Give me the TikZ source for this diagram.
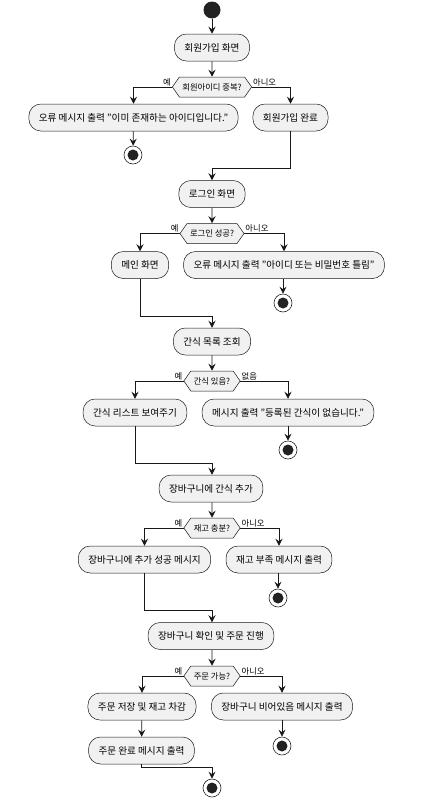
\documentclass[tikz,border=0pt]{standalone}
\usepackage{fontspec}
\setmainfont{Noto Sans CJK KR}
\usepackage{tikz}
\definecolor{umlline}{HTML}{181818}
\definecolor{umlfill}{HTML}{F1F1F1}
\definecolor{umldot}{HTML}{222222}
\usetikzlibrary{shapes.symbols,arrows.meta,positioning,calc}
\newcommand{\dq}{\symbol{34}}

\begin{document}
\begin{tikzpicture}[
    x=1pt, y=-1pt,
    box/.style={rectangle, rounded corners=12pt, draw=umlline, line width=0.5pt, fill=umlfill, minimum height=27pt, inner xsep=10pt, font=\fontsize{9.6}{11}\selectfont},
    choice/.style={signal, signal to=west and east, signal pointer angle=110, draw=umlline, line width=0.5pt, fill=umlfill, minimum height=20pt, inner xsep=3pt, inner ysep=1pt, font=\fontsize{8.3}{10}\selectfont},
    startdot/.style={circle, fill=umldot, minimum size=17pt, inner sep=0pt},
    stopdot/.style={circle, draw=umldot, line width=0.6pt, fill=white, minimum size=18pt, inner sep=0pt, path picture={\fill[umldot] (path picture bounding box.center) circle (5.5pt);}},
    flow/.style={draw=umlline, line width=0.8pt, -{Stealth[length=7pt,width=7pt,inset=2.5pt]}},
    branch/.style={font=\fontsize{8.3}{9}\selectfont, inner sep=1pt}
]
\useasboundingbox (0,0) rectangle (423,803);

\node[startdot] (s0) at (212,10) {};
\node[box] (join) at (212,47.5) {회원가입 화면};
\node[choice] (dupid) at (212,87) {회원아이디 중복?};
\node[box] (duperr) at (133.5,117.5) {오류 메시지 출력 \dq 이미 존재하는 아이디입니다.\dq};
\node[stopdot] (e1) at (133,155) {};
\node[box] (joinok) at (290.5,117.5) {회원가입 완료};
\coordinate (m1) at (212,168);

\node[box] (login) at (212,194) {로그인 화면};
\node[choice] (loginok) at (212,233.5) {로그인 성공?};
\node[box] (mainview) at (140,265) {메인 화면};
\node[box] (loginerr) at (284,265) {오류 메시지 출력 \dq 아이디 또는 비밀번호 틀림\dq};
\node[stopdot] (e2) at (283,303) {};
\coordinate (m2) at (212,316);

\node[box] (snacks) at (212,341.5) {간식 목록 조회};
\node[choice] (hassnack) at (212,381) {간식 있음?};
\node[box] (snacklist) at (135,412.5) {간식 리스트 보여주기};
\node[box] (nosnack) at (288,412.5) {메시지 출력 \dq 등록된 간식이 없습니다.\dq};
\node[stopdot] (e3) at (288,450) {};
\coordinate (m3) at (212,463);

\node[box] (addcart) at (211,488.5) {장바구니에 간식 추가};
\node[choice] (stockok) at (212,528) {재고 충분?};
\node[box] (addok) at (144.5,559.5) {장바구니에 추가 성공 메시지};
\node[box] (nostock) at (279,559.5) {재고 부족 메시지 출력};
\node[stopdot] (e4) at (278,598) {};
\coordinate (m4) at (212,610);

\node[box] (order) at (211,636) {장바구니 확인 및 주문 진행};
\node[choice] (canorder) at (212,676) {주문 가능?};
\node[box] (saveorder) at (142,706.5) {주문 저장 및 재고 차감};
\node[box] (emptycart) at (282,706.5) {장바구니 비어있음 메시지 출력};
\node[stopdot] (e5) at (282,746) {};
\node[box] (orderdone) at (141.5,750.5) {주문 완료 메시지 출력};
\coordinate (m5) at (212,767);
\node[stopdot] (e6) at (212,788) {};

\draw[flow] (s0) -- (join);
\draw[flow] (join) -- (dupid);
\draw[flow] (dupid.west) -| (duperr.north);
\draw[flow] (dupid.east) -| (joinok.north);
\node[branch, anchor=south east] at (dupid.west) {예};
\node[branch, anchor=south west] at (dupid.east) {아니오};
\draw[flow] (duperr) -- (e1);
\draw[flow] (joinok.south) |- (m1) -- (login.north);

\draw[flow] (login) -- (loginok);
\draw[flow] (loginok.west) -| (mainview.north);
\draw[flow] (loginok.east) -| (loginerr.north);
\node[branch, anchor=south east] at (loginok.west) {예};
\node[branch, anchor=south west] at (loginok.east) {아니오};
\draw[flow] (loginerr.south -| e2) -- (e2);
\draw[flow] (mainview.south) |- (m2) -- (snacks.north);

\draw[flow] (snacks) -- (hassnack);
\draw[flow] (hassnack.west) -| (snacklist.north);
\draw[flow] (hassnack.east) -| (nosnack.north);
\node[branch, anchor=south east] at (hassnack.west) {예};
\node[branch, anchor=south west] at (hassnack.east) {없음};
\draw[flow] (nosnack) -- (e3);
\draw[flow] (snacklist.south) |- (m3) -- (addcart.north -| m3);

\draw[flow] (addcart.south -| stockok) -- (stockok);
\draw[flow] (stockok.west) -| (addok.north);
\draw[flow] (stockok.east) -| (nostock.north);
\node[branch, anchor=south east] at (stockok.west) {예};
\node[branch, anchor=south west] at (stockok.east) {아니오};
\draw[flow] (nostock.south -| e4) -- (e4);
\draw[flow] (addok.south) |- (m4) -- (order.north -| m4);

\draw[flow] (order.south -| canorder) -- (canorder);
\draw[flow] (canorder.west) -| (saveorder.north);
\draw[flow] (canorder.east) -| (emptycart.north);
\node[branch, anchor=south east] at (canorder.west) {예};
\node[branch, anchor=south west] at (canorder.east) {아니오};
\draw[flow] (emptycart) -- (e5);
\draw[flow] (saveorder) -- (orderdone);
\draw[flow] (orderdone.south) |- (m5) -- (e6.north);
\end{tikzpicture}
\end{document}
